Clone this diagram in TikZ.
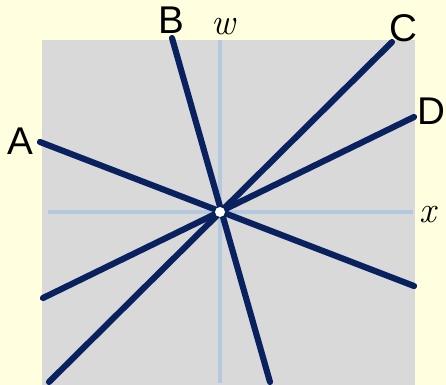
\documentclass[tikz,border=0pt]{standalone}
\usepackage{fontspec}
\setsansfont{Liberation Sans}
\usepackage{tikz}

\begin{document}
\begin{tikzpicture}[x=0.02cm, y=-0.02cm, font=\sffamily]
  % Define colors
  \definecolor{bgyellow}{HTML}{FFFFE0}
  \definecolor{planegray}{HTML}{D9D9D9}
  \definecolor{axisblue}{HTML}{B4C8E0}
  \definecolor{linenavy}{HTML}{0A215F}
  \tikzset{
    axis/.style={draw=axisblue, line width=2},
    ray/.style={draw=linenavy, line width=3.5, line cap=round},
    tag/.style={font=\fontsize{22}{22}\selectfont\sffamily},
    axtag/.style={font=\fontsize{21}{21}\selectfont\rmfamily\itshape}
  }

  % Background and plane
  \fill[bgyellow] (0,0) rectangle (446,385);
  \useasboundingbox (0,0) rectangle (446,385);
  \fill[planegray] (42,40) rectangle (415,385);

  % Axes
  \coordinate (O) at (220,212);
  \coordinate (wtop) at (220,40);
  \coordinate (wbot) at (220,383);
  \coordinate (xleft) at (48,212);
  \coordinate (xright) at (413,212);
  \draw[axis] (wbot) -- (wtop);
  \draw[axis] (xleft) -- (xright);

  % Line ends
  \coordinate (A1) at (40,142);   \coordinate (A2) at (414,286);
  \coordinate (B1) at (172,38);   \coordinate (B2) at (270,382);
  \coordinate (C1) at (392,42);   \coordinate (C2) at (49,382);
  \coordinate (D1) at (414,117);  \coordinate (D2) at (43,298);

  % Lines through the origin
  \draw[ray] (A1) -- (A2);
  \draw[ray] (B1) -- (B2);
  \draw[ray] (C1) -- (C2);
  \draw[ray] (D1) -- (D2);
  \fill[white] (O) circle (5);

  % Labels
  \node[tag] (labA) at (20,141) {A};
  \node[tag] (labB) at (171,20) {B};
  \node[tag] (labC) at (403,28) {C};
  \node[tag] (labD) at (431,111) {D};
  \node[axtag] (labw) at (223,27) {w};
  \node[axtag] (labx) at (428,215) {x};
\end{tikzpicture}
\end{document}
